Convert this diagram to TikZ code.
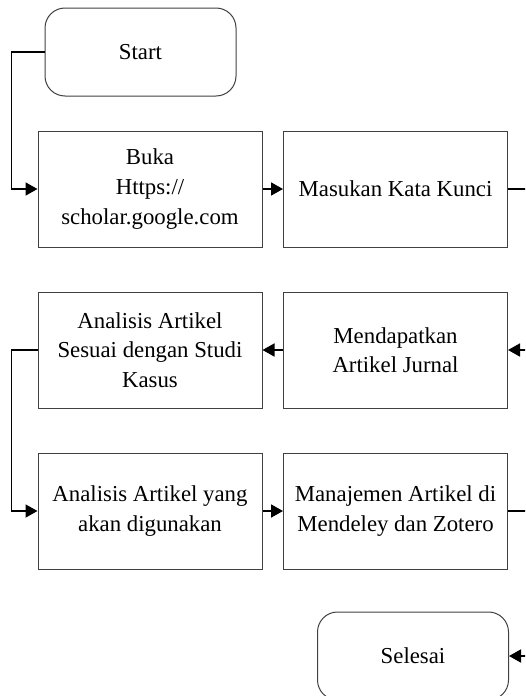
\documentclass[tikz,border=0pt]{standalone}
\usepackage{fontspec}
\setmainfont{Liberation Serif}
\usetikzlibrary{arrows.meta}
\tikzset{
  process/.style={draw=black!75, line width=0.5pt, minimum width=112pt,
    minimum height=58pt, align=center, inner sep=2pt,
    font=\fontsize{11.4}{14.8}\selectfont},
  terminal/.style={process, rounded corners=10pt, minimum width=95.5pt,
    minimum height=44pt},
  flow/.style={-{Triangle[length=6pt,width=6.5pt]}, line width=0.9pt}
}
\begin{document}
\begin{tikzpicture}[x=0.5pt,y=-0.5pt]
    \clip (0,0) rectangle (525,696);
    \node[terminal] (start) at (140.5,52) {Start};
    \node[process] (buka) at (150,189) {Buka\\Https://\\scholar.google.com};
    \node[process] (kunci) at (395.5,189) {Masukan Kata Kunci};
    \node[process] (jurnal) at (395.5,350) {Mendapatkan\\Artikel Jurnal};
    \node[process] (studi) at (150,350) {Analisis Artikel\\Sesuai dengan Studi\\Kasus};
    \node[process] (pakai) at (150,511) {Analisis Artikel yang\\akan digunakan};
    \node[process] (kelola) at (395.5,511) {Manajemen Artikel di\\Mendeley dan Zotero};
    \node[terminal] (selesai) at (413,656) {Selesai};
    % left side
    \draw[flow] (start.west) -- ++(-33,0) |- (buka.west);
    \draw[flow] (studi.west) -- ++(-26,0) |- (pakai.west);
    % rows
    \draw[flow] (buka) -- (kunci);
    \draw[flow] (jurnal) -- (studi);
    \draw[flow] (pakai) -- (kelola);
    % right side, runs past the edge
    \draw[flow] (kunci.east) -- ++(32,0) |- (jurnal.east);
    \draw[flow] (kelola.east) -- ++(32,0) |- (selesai.east);
\end{tikzpicture}
\end{document}
